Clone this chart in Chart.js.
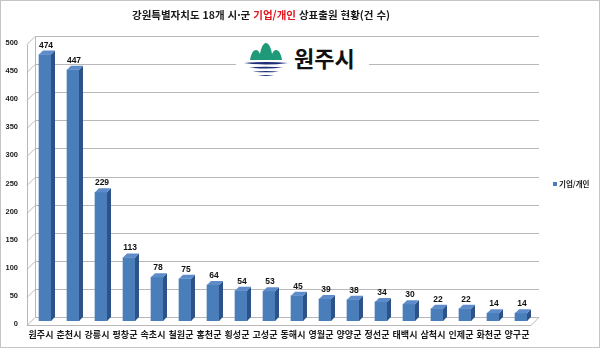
<!DOCTYPE html>
<html lang="ko">
<head>
<meta charset="UTF-8">
<title>강원특별자치도 18개 시·군 기업/개인 상표출원 현황</title>
<script src="https://cdn.jsdelivr.net/npm/chart.js"></script>
<style>
  html, body { margin: 0; padding: 0; background: #fff; }
  #wrap { position: relative; width: 600px; height: 348px; font-family: "Noto Sans CJK KR", sans-serif; }
  #frame { position: absolute; left: 0; top: 0; width: 600px; height: 348px; box-sizing: border-box;
           border: 1px solid #c4c4c4; pointer-events: none; }
  #title { position: absolute; top: 7px; left: 61px; width: 400px; text-align: center;
           font-size: 10.5px; font-weight: bold; color: #1a1a1a; white-space: nowrap; }
  #title .red { color: #e0141e; }
  #logo { position: absolute; left: 236px; top: 40px; width: 133px; height: 47px; background: #fff; }
  #logo svg { position: absolute; left: 5px; top: 2px; }
  #logo span { position: absolute; left: 58px; top: 1px; font-size: 22px; font-weight: bold; color: #111; }
</style>
</head>
<body>
<div id="wrap">
  <canvas id="chart" width="600" height="348"></canvas>
  <div id="title">강원특별자치도 18개 시·군 <span class="red">기업/개인</span> 상표출원 현황(건 수)</div>
  <div id="logo">
    <svg width="50" height="38" viewBox="0 0 50 38">
      <path d="M9 18 C10 12 12 8 15 8 C17 8 18 10 19 12 C20 6 22 1 25 1 C28 1 30 6 31 12 C32 10 33 8 35 8 C38 8 40 12 41 18 Z" fill="#1f9a78"/>
      <path d="M3 21 Q25 19 47 21 Q25 24 3 21 Z" fill="#1d2e78"/>
      <path d="M8 25.5 Q25 24 42 25.5 Q25 27.5 8 25.5 Z" fill="#1d2e78"/>
      <path d="M12 29.5 Q25 28.5 38 29.5 Q25 31.2 12 29.5 Z" fill="#1d2e78"/>
      <path d="M17 33.3 Q25 32.6 33 33.3 Q25 34.6 17 33.3 Z" fill="#1d2e78"/>
    </svg>
    <span>원주시</span>
  </div>
  <div id="frame"></div>
</div>

<script>
// data
const regions = ['원주시', '춘천시', '강릉시', '평창군', '속초시', '철원군', '홍천군', '횡성군', '고성군',
                 '동해시', '영월군', '양양군', '정선군', '태백시', '삼척시', '인제군', '화천군', '양구군'];
const filings = [474, 447, 229, 113, 78, 75, 64, 54, 53, 45, 39, 38, 34, 30, 22, 22, 14, 14];
const seriesName = '기업/개인';
const yTicks = [0, 50, 100, 150, 200, 250, 300, 350, 400, 450, 500];

const DEPTH = 4; // half of the 3D wall depth, bars sit in the middle

// back wall gridlines, left wall and floor of the 3D box
const wallPlugin = {
  id: 'wall',
  beforeDatasetsDraw(chart) {
    const { ctx, chartArea: a, scales: { y } } = chart;
    ctx.save();
    ctx.strokeStyle = '#b8b8b8';
    ctx.lineWidth = 1;
    ctx.beginPath();
    yTicks.forEach(v => {
      const py = Math.round(y.getPixelForValue(v)) + 0.5;
      ctx.moveTo(a.left - DEPTH, py + DEPTH);
      ctx.lineTo(a.left + DEPTH, py - DEPTH);
      ctx.lineTo(a.right + DEPTH, py - DEPTH);
    });
    const top = Math.round(y.getPixelForValue(500)) + 0.5;
    const bot = Math.round(y.getPixelForValue(0)) + 0.5;
    ctx.moveTo(a.left + DEPTH + 0.5, top - DEPTH);
    ctx.lineTo(a.left + DEPTH + 0.5, bot - DEPTH);
    ctx.moveTo(a.left - DEPTH + 0.5, top + DEPTH);
    ctx.lineTo(a.left - DEPTH + 0.5, bot + DEPTH);
    ctx.moveTo(a.left - DEPTH, bot + DEPTH);
    ctx.lineTo(a.right - DEPTH, bot + DEPTH);
    ctx.lineTo(a.right + DEPTH, bot - DEPTH);
    ctx.stroke();
    ctx.restore();
  }
};

// side and top faces of each bar, value labels and the legend
const barPlugin = {
  id: 'bars3d',
  afterDatasetsDraw(chart) {
    const { ctx } = chart;
    const meta = chart.getDatasetMeta(0);
    ctx.save();
    meta.data.forEach((bar, i) => {
      const p = bar.getProps(['x', 'y', 'base', 'width'], true);
      const l = p.x - p.width / 2, r = p.x + p.width / 2;
      ctx.fillStyle = '#2c5287';
      ctx.beginPath();
      ctx.moveTo(r, p.y);
      ctx.lineTo(r + DEPTH, p.y - DEPTH);
      ctx.lineTo(r + DEPTH, p.base - DEPTH);
      ctx.lineTo(r, p.base);
      ctx.closePath();
      ctx.fill();
      ctx.fillStyle = '#5e8ccb';
      ctx.beginPath();
      ctx.moveTo(l, p.y);
      ctx.lineTo(l + DEPTH, p.y - DEPTH);
      ctx.lineTo(r + DEPTH, p.y - DEPTH);
      ctx.lineTo(r, p.y);
      ctx.closePath();
      ctx.fill();

      ctx.fillStyle = '#111';
      ctx.font = 'bold 8.5px "Liberation Sans", sans-serif';
      ctx.textAlign = 'center';
      ctx.textBaseline = 'alphabetic';
      ctx.fillText(filings[i], p.x + 1, p.y - DEPTH - 3);
    });

    // legend on the right
    ctx.fillStyle = '#4a7ebb';
    ctx.fillRect(553, 182, 4, 4);
    ctx.fillStyle = '#222';
    ctx.font = 'bold 7.5px "Noto Sans CJK KR", sans-serif';
    ctx.textAlign = 'left';
    ctx.textBaseline = 'middle';
    ctx.fillText(seriesName, 559, 184.5);
    ctx.restore();
  }
};

new Chart(document.getElementById('chart'), {
  type: 'bar',
  data: {
    labels: regions,
    datasets: [{
      label: seriesName,
      data: filings,
      backgroundColor: '#4a7ebb',
      borderWidth: 0,
      barThickness: 12
    }]
  },
  options: {
    responsive: false,
    animation: false,
    layout: { padding: { left: 0, right: 65, top: 40, bottom: 0 } },
    plugins: {
      legend: { display: false },
      tooltip: { enabled: false }
    },
    scales: {
      x: {
        grid: { display: false, drawTicks: false },
        border: { display: false },
        ticks: {
          color: '#1a1a1a',
          font: { family: '"Noto Sans CJK KR", sans-serif', size: 9, weight: 'bold' },
          padding: 8,
          labelOffset: -DEPTH,
          maxRotation: 0,
          autoSkip: false
        },
        afterFit(scale) { scale.height = 27; }
      },
      y: {
        min: 0,
        max: 500,
        grid: { display: false, drawTicks: false },
        border: { display: false },
        ticks: {
          stepSize: 50,
          color: '#1a1a1a',
          font: { family: '"Liberation Sans", sans-serif', size: 7.5, weight: 'bold' },
          padding: 13,
          labelOffset: 3
        },
        afterFit(scale) { scale.width = 31; }
      }
    }
  },
  plugins: [wallPlugin, barPlugin]
});
</script>
</body>
</html>
